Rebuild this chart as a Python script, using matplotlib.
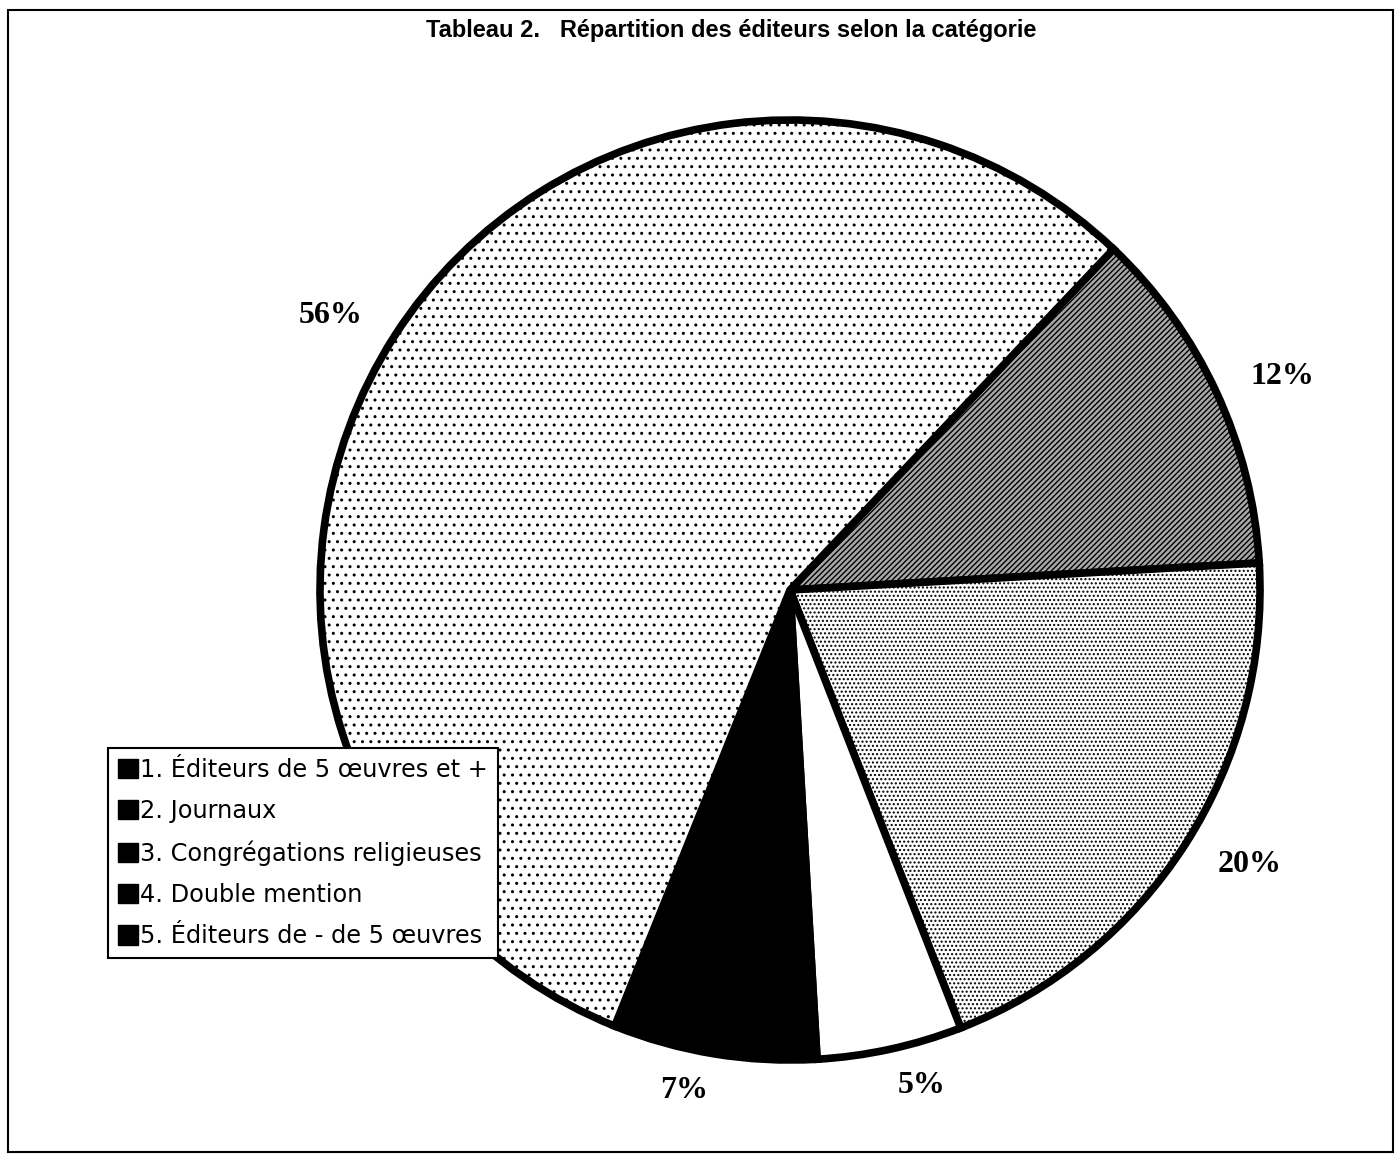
import matplotlib.pyplot as plt
from matplotlib.patches import Patch, Rectangle

# data, in pie order (clockwise from the upper right)
categories = ["2. Journaux", "5. Éditeurs de - de 5 œuvres", "3. Congrégations religieuses",
              "4. Double mention", "1. Éditeurs de 5 œuvres et +"]
values = [12, 20, 5, 7, 56]
pct_labels = ["12%", "20%", "5%", "7%", "56%"]
legend_order = ["1. Éditeurs de 5 œuvres et +", "2. Journaux", "3. Congrégations religieuses",
                "4. Double mention", "5. Éditeurs de - de 5 œuvres"]
title = "Tableau 2.   Répartition des éditeurs selon la catégorie"

faces = ["#a8a8a8", "white", "white", "black", "white"]
hatches = ["//////", "....", None, None, ".."]

plt.rcParams['hatch.linewidth'] = 1.0

fig = plt.figure(figsize=(13.99, 11.55), dpi=100)
W, H = 1399, 1155
cx, cy, R = 790, 590, 470
ax = fig.add_axes([(cx - R) / W, (H - cy - R) / H, 2 * R / W, 2 * R / H])

wedges, texts = ax.pie(values, labels=pct_labels, startangle=46.5, counterclock=False,
                       colors=faces, labeldistance=1.08,
                       wedgeprops=dict(edgecolor="black", linewidth=5.5),
                       textprops=dict(family="Liberation Serif", fontweight="bold",
                                      fontsize=23))
for w, h in zip(wedges, hatches):
    if h:
        w.set_hatch(h)
ax.set_xlim(-1, 1)
ax.set_ylim(-1, 1)
ax.set_aspect("equal")

fig.text(731 / W, 1 - 30 / H, title, ha="center", va="center",
         family="Liberation Sans", fontweight="bold", fontsize=17)

handles = [Patch(facecolor="black", edgecolor="black") for _ in legend_order]
leg = fig.legend(handles, legend_order, loc="upper left",
                 bbox_to_anchor=(108 / W, 1 - 748 / H), fancybox=False,
                 prop=dict(family="DejaVu Sans", size=17.3), handlelength=0.85,
                 handleheight=0.85, handletextpad=0.1, labelspacing=0.72,
                 borderpad=0.4, borderaxespad=0, framealpha=1)
leg.get_frame().set_edgecolor("black")
leg.get_frame().set_linewidth(1.5)

fig.patches.append(Rectangle((8 / W, 1 - 1152 / H), 1385 / W, 1142 / H,
                             transform=fig.transFigure, fill=False,
                             edgecolor="black", linewidth=1.5))

fig.savefig("out.png", dpi=100)
